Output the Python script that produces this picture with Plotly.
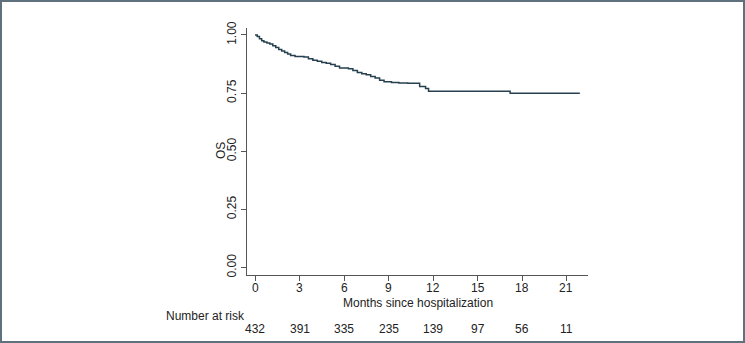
import plotly.graph_objects as go

# Kaplan-Meier overall survival estimate (step changes)
months = [0, 0.15, 0.3, 0.45, 0.6, 0.8, 1.0, 1.2, 1.4, 1.6, 1.8, 2.0, 2.2, 2.4, 2.7,
          3.3, 3.6, 3.9, 4.2, 4.5, 4.8, 5.1, 5.4, 5.7, 6.3, 6.6, 6.9, 7.2, 7.5, 7.8,
          8.1, 8.4, 8.7, 9.2, 9.7, 10.3, 11.1, 11.5, 11.7, 17.2, 21.9]
surv = [1.0, 0.993, 0.984, 0.975, 0.970, 0.966, 0.961, 0.954, 0.946, 0.938, 0.931,
        0.925, 0.918, 0.912, 0.907, 0.905, 0.898, 0.891, 0.887, 0.882, 0.878, 0.873,
        0.866, 0.858, 0.855, 0.847, 0.839, 0.833, 0.829, 0.822, 0.815, 0.805, 0.799,
        0.796, 0.794, 0.792, 0.779, 0.770, 0.758, 0.749, 0.749]

risk_times = [0, 3, 6, 9, 12, 15, 18, 21]
at_risk = [432, 391, 335, 235, 139, 97, 56, 11]

y_ticks = [0.0, 0.25, 0.5, 0.75, 1.0]
y_tick_text = ["0.00", "0.25", "0.50", "0.75", "1.00"]

W, H = 745, 343
L, R, T, B = 247, 157, 28, 68
pw, ph = W - L - R, H - T - B


def px_x(p):
    return (p - L) / pw


def px_y(p):
    return (H - B - p) / ph


FONT = "Liberation Sans, Arial, sans-serif"
TXT = "#222222"

fig = go.Figure()
fig.add_trace(go.Scatter(
    x=months, y=surv, mode="lines", line_shape="hv",
    line=dict(color="#26404f", width=1.5), hoverinfo="skip", showlegend=False,
))

axis_common = dict(
    showgrid=False, zeroline=False, showline=True, linecolor="#555555", linewidth=1,
    ticks="outside", ticklen=5, tickcolor="#555555",
    tickfont=dict(family=FONT, size=12, color=TXT),
)

fig.update_layout(
    width=W, height=H,
    margin=dict(l=L, r=R, t=T, b=B, pad=0),
    paper_bgcolor="white", plot_bgcolor="white",
    xaxis=dict(range=[-0.54, 22.45], tickvals=risk_times, showticklabels=False,
               **axis_common),
    yaxis=dict(range=[-0.032, 1.03], tickvals=y_ticks, ticktext=y_tick_text,
               tickangle=-90, **axis_common),
)

annots = [
    dict(text="Months since hospitalization", xref="paper", yref="paper",
         x=0.5, y=px_y(303), xanchor="center", yanchor="middle", showarrow=False,
         font=dict(family=FONT, size=12, color=TXT)),
    dict(text="OS", xref="paper", yref="paper", x=px_x(221), y=px_y(151),
         xanchor="center", yanchor="middle", textangle=-90, showarrow=False,
         font=dict(family=FONT, size=12, color=TXT)),
    dict(text="Number at risk", xref="paper", yref="paper", x=px_x(164), y=px_y(316),
         xanchor="left", yanchor="middle", showarrow=False,
         font=dict(family=FONT, size=12, color=TXT)),
]
# x tick labels and the number-at-risk row, aligned on the month ticks
for t, n in zip(risk_times, at_risk):
    annots.append(dict(text=str(t), xref="x", yref="paper", x=t, y=px_y(288),
                       xanchor="center", yanchor="middle", showarrow=False,
                       font=dict(family=FONT, size=12, color=TXT)))
    annots.append(dict(text=str(n), xref="x", yref="paper", x=t, y=px_y(329),
                       xanchor="center", yanchor="middle", showarrow=False,
                       font=dict(family=FONT, size=12, color=TXT)))
fig.update_layout(annotations=annots)

# frame around the whole figure
fig.add_shape(type="rect", xref="paper", yref="paper",
              x0=px_x(1), x1=px_x(744), y0=px_y(342), y1=px_y(1),
              line=dict(color="#5e717c", width=2), layer="above")

fig.write_html("out.html")
